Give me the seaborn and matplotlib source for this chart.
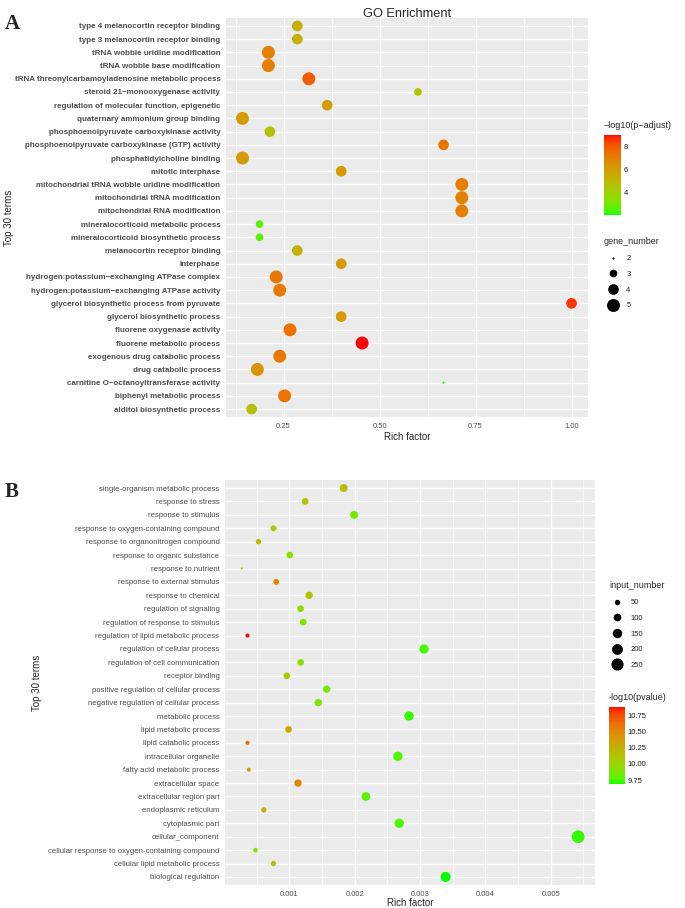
import numpy as np
import pandas as pd
import seaborn as sns
import matplotlib.pyplot as plt
from matplotlib.colors import ListedColormap, Normalize
from matplotlib.cm import ScalarMappable
from matplotlib.lines import Line2D
from matplotlib.ticker import MultipleLocator, FormatStrFormatter

# ---- panel A: GO enrichment (top to bottom) ----
terms_a = [
    "type 4 melanocortin receptor binding",
    "type 3 melanocortin receptor binding",
    "tRNA wobble uridine modification",
    "tRNA wobble base modification",
    "tRNA threonylcarbamoyladenosine metabolic process",
    "steroid 21\u2212monooxygenase activity",
    "regulation of molecular function, epigenetic",
    "quaternary ammonium group binding",
    "phosphoenolpyruvate carboxykinase activity",
    "phosphoenolpyruvate carboxykinase (GTP) activity",
    "phosphatidylcholine binding",
    "mitotic interphase",
    "mitochondrial tRNA wobble uridine modification",
    "mitochondrial tRNA modification",
    "mitochondrial RNA modification",
    "mineralocorticoid metabolic process",
    "mineralocorticoid biosynthetic process",
    "melanocortin receptor binding",
    "interphase",
    "hydrogen:potassium\u2212exchanging ATPase complex",
    "hydrogen:potassium\u2212exchanging ATPase activity",
    "glycerol biosynthetic process from pyruvate",
    "glycerol biosynthetic process",
    "fluorene oxygenase activity",
    "fluorene metabolic process",
    "exogenous drug catabolic process",
    "drug catabolic process",
    "carnitine O\u2212octanoyltransferase activity",
    "biphenyl metabolic process",
    "alditol biosynthetic process",
]
rich_a = [0.2857, 0.2857, 0.2105, 0.2105, 0.3158, 0.6, 0.3636, 0.1429, 0.2143, 0.6667,
          0.1429, 0.4, 0.7143, 0.7143, 0.7143, 0.1875, 0.1875, 0.2857, 0.4, 0.2308,
          0.24, 1.0, 0.4, 0.2667, 0.4545, 0.24, 0.1818, 0.6667, 0.2526, 0.1667]
padj_a = [5.3, 5.3, 7.0, 7.0, 7.9, 4.4, 6.0, 6.1, 4.6, 7.3,
          6.1, 6.2, 7.0, 7.0, 7.0, 2.5, 2.5, 5.3, 6.2, 7.2,
          7.2, 8.6, 6.2, 7.4, 9.0, 7.2, 6.4, 2.0, 7.3, 4.7]
genes_a = [4, 4, 5, 5, 5, 3, 4, 5, 4, 4,
           5, 4, 5, 5, 5, 3, 3, 4, 4, 5,
           5, 4, 4, 5, 5, 5, 5, 2, 5, 4]

# ---- panel B (top to bottom) ----
terms_b = [
    "single-organism metabolic process",
    "response to stress",
    "response to stimulus",
    "response to oxygen-containing compound",
    "response to organonitrogen compound",
    "response to organic substance",
    "response to nutrient",
    "response to external stimulus",
    "response to chemical",
    "regulation of signaling",
    "regulation of response to stimulus",
    "regulation of lipid metabolic process",
    "regulation of cellular process",
    "regulation of cell communication",
    "receptor binding",
    "positive regulation of cellular process",
    "negative regulation of cellular process",
    "metabolic process",
    "lipid metabolic process",
    "lipid catabolic process",
    "intracellular organelle",
    "fatty acid metabolic process",
    "extracellular space",
    "extracellular region part",
    "endoplasmic reticulum",
    "cytoplasmic part",
    "cellular_component",
    "cellular response to oxygen-containing compound",
    "cellular lipid metabolic process",
    "biological regulation",
]
rich_b = [0.00183, 0.00124, 0.00199, 0.000755, 0.000525, 0.001005, 0.00027, 0.000796, 0.0013, 0.00117,
          0.00121, 0.000357, 0.00306, 0.00117, 0.00096, 0.00157, 0.00144, 0.00283, 0.000985, 0.000357,
          0.00266, 0.000378, 0.00113, 0.00217, 0.000607, 0.00268, 0.00542, 0.00048, 0.000755, 0.00339]
pval_b = [10.15, 10.12, 9.85, 10.12, 10.2, 9.93, 10.15, 10.5, 10.12, 9.95,
          9.9, 10.88, 9.75, 9.95, 10.08, 9.85, 9.87, 9.72, 10.3, 10.65,
          9.76, 10.38, 10.5, 9.78, 10.25, 9.76, 9.72, 9.93, 10.15, 9.69]
input_b = [109, 76, 109, 60, 49, 76, 8, 60, 92, 76,
           76, 28, 147, 76, 76, 92, 92, 147, 76, 28,
           147, 28, 92, 128, 49, 147, 270, 37, 49, 170]


def lab_ramp(n=256):
    # green -> red, interpolated in CIELAB like ggplot's scale_colour_gradient
    lo = np.array([87.735, -86.183, 83.179])
    hi = np.array([53.241, 80.092, 67.203])
    t = np.linspace(0, 1, n)[:, None]
    L, a, b = (lo + t * (hi - lo)).T
    fy = (L + 16) / 116
    fx = fy + a / 500
    fz = fy - b / 200

    def finv(f):
        return np.where(f > 6 / 29, f ** 3, 3 * (6 / 29) ** 2 * (f - 4 / 29))

    xyz = np.stack([0.95047 * finv(fx), finv(fy), 1.08883 * finv(fz)], axis=1)
    m = np.array([[3.2406, -1.5372, -0.4986],
                  [-0.9689, 1.8758, 0.0415],
                  [0.0557, -0.2040, 1.0570]])
    rgb = np.clip(xyz @ m.T, 0, None)
    rgb = np.where(rgb > 0.0031308, 1.055 * rgb ** (1 / 2.4) - 0.055, 12.92 * rgb)
    return ListedColormap(np.clip(rgb, 0, 1))


cmap = lab_ramp()

sns.set_theme(style="darkgrid", rc={"axes.facecolor": "#EBEBEB", "grid.color": "white"})
plt.rcParams['font.family'] = ['Liberation Sans', 'DejaVu Sans']

fig = plt.figure(figsize=(6.85, 9.08), dpi=100)
W, H = 685, 908


def fbox(x0, y0, x1, y1):
    return [x0 / W, 1 - y1 / H, (x1 - x0) / W, (y1 - y0) / H]


def panel(rect, terms, rich, col, size, cnorm, snorm, sizes, major, minor, fmt,
          label_kw, ylab_x):
    ax = fig.add_axes(rect)
    df = pd.DataFrame({"term": terms, "rich": rich, "col": col, "size": size})
    sns.scatterplot(data=df, x="rich", y="term", hue="col", size="size",
                    palette=cmap, hue_norm=cnorm, size_norm=snorm, sizes=sizes,
                    linewidth=0, legend=False, ax=ax, zorder=3)
    lo, hi = min(rich), max(rich)
    pad = (hi - lo) * 0.05
    ax.set_xlim(lo - pad, hi + pad)
    ax.set_ylim(len(terms) - 0.4, -0.6)
    ax.xaxis.set_major_locator(MultipleLocator(major))
    ax.xaxis.set_minor_locator(MultipleLocator(minor))
    ax.xaxis.set_major_formatter(FormatStrFormatter(fmt))
    ax.grid(which="major", color="white", linewidth=1.0)
    ax.grid(which="minor", axis="x", color="white", linewidth=0.5)
    ax.tick_params(which="major", length=2.5, width=0.6, color="#333333", pad=1.5)
    ax.tick_params(which="minor", length=0)
    ax.tick_params(axis="y", labelsize=label_kw["size"], labelcolor="#4D4D4D")
    ax.tick_params(axis="x", labelsize=5.5, labelcolor="#4D4D4D")
    for lab in ax.get_yticklabels():
        lab.set_fontweight(label_kw["weight"])
    for s in ax.spines.values():
        s.set_visible(False)
    ax.set_xlabel("Rich factor", fontsize=7, labelpad=label_kw["xpad"])
    ax.set_ylabel("Top 30 terms", fontsize=7)
    ax.yaxis.set_label_coords(ylab_x, 0.5)
    return ax


def size_handles(vals, vmin, vmax, sizes):
    out = []
    for v in vals:
        s = sizes[0] + (v - vmin) / (vmax - vmin) * (sizes[1] - sizes[0])
        out.append(Line2D([], [], marker="o", linestyle="", color="black",
                          markeredgewidth=0, markersize=np.sqrt(s)))
    return out


def size_legend(handles, labels, title, x_title, y_title, x_keys, y_top):
    fig.text(x_title / W, 1 - y_title / H, title, fontsize=6.5, va="center")
    return fig.legend(handles, labels, loc="upper left",
                      bbox_to_anchor=(x_keys / W, 1 - y_top / H), frameon=False,
                      fontsize=5.5, labelspacing=1.09, handletextpad=1.1,
                      borderpad=0, borderaxespad=0, handlelength=1.3)


# ---- panel A ----
size_a = (2.4, 87.0)
ax_a = panel(fbox(226, 18, 588, 417), terms_a, rich_a, padj_a, genes_a,
             (2.0, 9.0), (2, 5), size_a, 0.25, 0.125, "%.2f",
             {"size": 5.75, "weight": "bold", "xpad": 2}, -0.586)
ax_a.set_title("GO Enrichment", fontsize=9.2, pad=1)

cax_a = fig.add_axes(fbox(604, 135, 621, 215))
cb = fig.colorbar(ScalarMappable(Normalize(2.0, 9.0), cmap), cax=cax_a, ticks=[4, 6, 8])
cb.outline.set_visible(False)
cax_a.tick_params(length=3, color="white", direction="in", labelsize=5.5, pad=2)
cax_a.set_yticklabels(["4", "6", "8"], color="#1A1A1A")
fig.text(604 / W, 1 - 126 / H, "\u2212log10(p\u2212adjust)", fontsize=6.5, va="center")

genes_breaks = [2, 3, 4, 5]
size_legend(size_handles(genes_breaks, 2, 5, size_a), [str(v) for v in genes_breaks],
            "gene_number", 604, 241, 608, 255)

# ---- panel B ----
size_b = (2.3, 83.0)
ax_b = panel(fbox(225, 480, 595, 885), terms_b, rich_b, pval_b, input_b,
             (9.69, 10.88), (8, 270), size_b, 0.001, 0.0005, "%.3f",
             {"size": 5.6, "weight": "normal", "xpad": 0.5}, -0.495)

cax_b = fig.add_axes(fbox(609, 707, 625, 784))
cb = fig.colorbar(ScalarMappable(Normalize(9.69, 10.88), cmap), cax=cax_b,
                  ticks=[9.75, 10.0, 10.25, 10.5, 10.75])
cb.outline.set_visible(False)
cax_b.tick_params(length=3, color="white", direction="in", labelsize=5.5, pad=2)
cax_b.set_yticklabels(["9.75", "10.00", "10.25", "10.50", "10.75"], color="#1A1A1A")
fig.text(609 / W, 1 - 697 / H, "-log10(pvalue)", fontsize=6.5, va="center")

input_breaks = [50, 100, 150, 200, 250]
size_legend(size_handles(input_breaks, 8, 270, size_b), [str(v) for v in input_breaks],
            "input_number", 609, 586, 612, 599)

fig.text(5 / W, 1 - 29 / H, "A", fontsize=15, fontweight="bold",
         family=["Liberation Serif", "DejaVu Serif"])
fig.text(5 / W, 1 - 497 / H, "B", fontsize=15, fontweight="bold",
         family=["Liberation Serif", "DejaVu Serif"])

fig.savefig("out.png", dpi=100)
